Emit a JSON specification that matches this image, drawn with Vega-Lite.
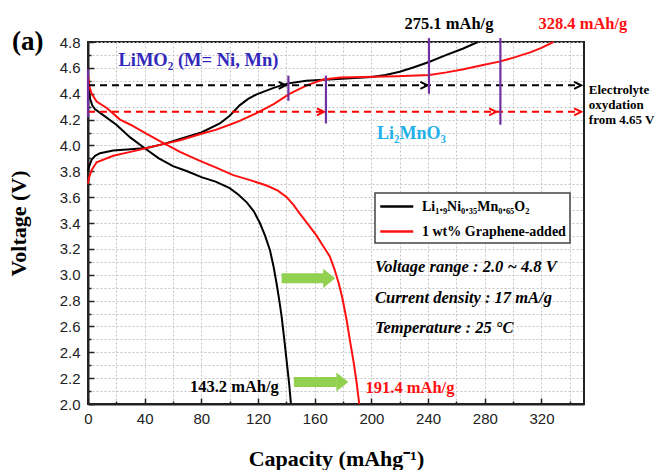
{
  "$schema": "https://vega.github.io/schema/vega-lite/v6.json",
  "width": 496,
  "height": 362,
  "autosize": {"type": "none"},
  "padding": {"left": 88, "top": 42, "right": 73, "bottom": 66},
  "background": "white",
  "config": {
    "view": {"stroke": "#222", "strokeWidth": 2},
    "font": "Liberation Serif",
    "axis": {
      "domainColor": "#222",
      "domainWidth": 2,
      "tickColor": "#222",
      "tickWidth": 1.5,
      "labelFont": "Liberation Sans",
      "labelFontSize": 15,
      "labelColor": "#222",
      "labelFlush": false,
      "labelOverlap": false,
      "titleFont": "Liberation Serif",
      "titleFontSize": 22,
      "titleFontWeight": "bold",
      "titleColor": "black",
      "gridColor": "#c4c4c4",
      "gridDash": [2, 2],
      "gridWidth": 1
    },
    "legend": {
      "orient": "none",
      "legendX": 287,
      "legendY": 151,
      "strokeColor": "#444",
      "strokeWidth": 1.5,
      "fillColor": "white",
      "padding": 4,
      "symbolType": "M -1 0 L 3 0",
      "symbolSize": 272,
      "symbolStrokeWidth": 2.5,
      "symbolFillColor": "transparent",
      "labelOffset": 24,
      "labelFont": "Liberation Serif",
      "labelFontSize": 14,
      "labelFontWeight": "bold",
      "labelColor": "black",
      "labelLimit": 300,
      "rowPadding": 8
    }
  },
  "datasets": {
    "curves": [
      {"series": "Li₁.₉Ni₀.₃₅Mn₀.₆₅O₂", "branch": "charge", "capacity": 0, "voltage": 3.80},
      {"series": "Li₁.₉Ni₀.₃₅Mn₀.₆₅O₂", "branch": "charge", "capacity": 0.9, "voltage": 3.84},
      {"series": "Li₁.₉Ni₀.₃₅Mn₀.₆₅O₂", "branch": "charge", "capacity": 2.6, "voltage": 3.89},
      {"series": "Li₁.₉Ni₀.₃₅Mn₀.₆₅O₂", "branch": "charge", "capacity": 5, "voltage": 3.92},
      {"series": "Li₁.₉Ni₀.₃₅Mn₀.₆₅O₂", "branch": "charge", "capacity": 8.5, "voltage": 3.94},
      {"series": "Li₁.₉Ni₀.₃₅Mn₀.₆₅O₂", "branch": "charge", "capacity": 17.8, "voltage": 3.96},
      {"series": "Li₁.₉Ni₀.₃₅Mn₀.₆₅O₂", "branch": "charge", "capacity": 30, "voltage": 3.97},
      {"series": "Li₁.₉Ni₀.₃₅Mn₀.₆₅O₂", "branch": "charge", "capacity": 41.4, "voltage": 3.98},
      {"series": "Li₁.₉Ni₀.₃₅Mn₀.₆₅O₂", "branch": "charge", "capacity": 53, "voltage": 4.01},
      {"series": "Li₁.₉Ni₀.₃₅Mn₀.₆₅O₂", "branch": "charge", "capacity": 64.9, "voltage": 4.05},
      {"series": "Li₁.₉Ni₀.₃₅Mn₀.₆₅O₂", "branch": "charge", "capacity": 80, "voltage": 4.10},
      {"series": "Li₁.₉Ni₀.₃₅Mn₀.₆₅O₂", "branch": "charge", "capacity": 93, "voltage": 4.17},
      {"series": "Li₁.₉Ni₀.₃₅Mn₀.₆₅O₂", "branch": "charge", "capacity": 100, "voltage": 4.23},
      {"series": "Li₁.₉Ni₀.₃₅Mn₀.₆₅O₂", "branch": "charge", "capacity": 107, "voltage": 4.31},
      {"series": "Li₁.₉Ni₀.₃₅Mn₀.₆₅O₂", "branch": "charge", "capacity": 113, "voltage": 4.36},
      {"series": "Li₁.₉Ni₀.₃₅Mn₀.₆₅O₂", "branch": "charge", "capacity": 119, "voltage": 4.395},
      {"series": "Li₁.₉Ni₀.₃₅Mn₀.₆₅O₂", "branch": "charge", "capacity": 125, "voltage": 4.42},
      {"series": "Li₁.₉Ni₀.₃₅Mn₀.₆₅O₂", "branch": "charge", "capacity": 131, "voltage": 4.445},
      {"series": "Li₁.₉Ni₀.₃₅Mn₀.₆₅O₂", "branch": "charge", "capacity": 138, "voltage": 4.47},
      {"series": "Li₁.₉Ni₀.₃₅Mn₀.₆₅O₂", "branch": "charge", "capacity": 141.5, "voltage": 4.48},
      {"series": "Li₁.₉Ni₀.₃₅Mn₀.₆₅O₂", "branch": "charge", "capacity": 154, "voltage": 4.50},
      {"series": "Li₁.₉Ni₀.₃₅Mn₀.₆₅O₂", "branch": "charge", "capacity": 170, "voltage": 4.51},
      {"series": "Li₁.₉Ni₀.₃₅Mn₀.₆₅O₂", "branch": "charge", "capacity": 185, "voltage": 4.52},
      {"series": "Li₁.₉Ni₀.₃₅Mn₀.₆₅O₂", "branch": "charge", "capacity": 200, "voltage": 4.53},
      {"series": "Li₁.₉Ni₀.₃₅Mn₀.₆₅O₂", "branch": "charge", "capacity": 210, "voltage": 4.545},
      {"series": "Li₁.₉Ni₀.₃₅Mn₀.₆₅O₂", "branch": "charge", "capacity": 220, "voltage": 4.57},
      {"series": "Li₁.₉Ni₀.₃₅Mn₀.₆₅O₂", "branch": "charge", "capacity": 230, "voltage": 4.605},
      {"series": "Li₁.₉Ni₀.₃₅Mn₀.₆₅O₂", "branch": "charge", "capacity": 240.6, "voltage": 4.645},
      {"series": "Li₁.₉Ni₀.₃₅Mn₀.₆₅O₂", "branch": "charge", "capacity": 253, "voltage": 4.70},
      {"series": "Li₁.₉Ni₀.₃₅Mn₀.₆₅O₂", "branch": "charge", "capacity": 264.8, "voltage": 4.75},
      {"series": "Li₁.₉Ni₀.₃₅Mn₀.₆₅O₂", "branch": "charge", "capacity": 275.1, "voltage": 4.80},

      {"series": "Li₁.₉Ni₀.₃₅Mn₀.₆₅O₂", "branch": "discharge", "capacity": 0, "voltage": 4.50},
      {"series": "Li₁.₉Ni₀.₃₅Mn₀.₆₅O₂", "branch": "discharge", "capacity": 1.5, "voltage": 4.36},
      {"series": "Li₁.₉Ni₀.₃₅Mn₀.₆₅O₂", "branch": "discharge", "capacity": 3, "voltage": 4.31},
      {"series": "Li₁.₉Ni₀.₃₅Mn₀.₆₅O₂", "branch": "discharge", "capacity": 5, "voltage": 4.28},
      {"series": "Li₁.₉Ni₀.₃₅Mn₀.₆₅O₂", "branch": "discharge", "capacity": 10, "voltage": 4.24},
      {"series": "Li₁.₉Ni₀.₃₅Mn₀.₆₅O₂", "branch": "discharge", "capacity": 20, "voltage": 4.16},
      {"series": "Li₁.₉Ni₀.₃₅Mn₀.₆₅O₂", "branch": "discharge", "capacity": 30, "voltage": 4.06},
      {"series": "Li₁.₉Ni₀.₃₅Mn₀.₆₅O₂", "branch": "discharge", "capacity": 41, "voltage": 3.97},
      {"series": "Li₁.₉Ni₀.₃₅Mn₀.₆₅O₂", "branch": "discharge", "capacity": 50, "voltage": 3.90},
      {"series": "Li₁.₉Ni₀.₃₅Mn₀.₆₅O₂", "branch": "discharge", "capacity": 60, "voltage": 3.84},
      {"series": "Li₁.₉Ni₀.₃₅Mn₀.₆₅O₂", "branch": "discharge", "capacity": 70, "voltage": 3.80},
      {"series": "Li₁.₉Ni₀.₃₅Mn₀.₆₅O₂", "branch": "discharge", "capacity": 80, "voltage": 3.755},
      {"series": "Li₁.₉Ni₀.₃₅Mn₀.₆₅O₂", "branch": "discharge", "capacity": 90, "voltage": 3.72},
      {"series": "Li₁.₉Ni₀.₃₅Mn₀.₆₅O₂", "branch": "discharge", "capacity": 100, "voltage": 3.67},
      {"series": "Li₁.₉Ni₀.₃₅Mn₀.₆₅O₂", "branch": "discharge", "capacity": 106, "voltage": 3.62},
      {"series": "Li₁.₉Ni₀.₃₅Mn₀.₆₅O₂", "branch": "discharge", "capacity": 112, "voltage": 3.56},
      {"series": "Li₁.₉Ni₀.₃₅Mn₀.₆₅O₂", "branch": "discharge", "capacity": 117, "voltage": 3.49},
      {"series": "Li₁.₉Ni₀.₃₅Mn₀.₆₅O₂", "branch": "discharge", "capacity": 121.3, "voltage": 3.40},
      {"series": "Li₁.₉Ni₀.₃₅Mn₀.₆₅O₂", "branch": "discharge", "capacity": 125, "voltage": 3.30},
      {"series": "Li₁.₉Ni₀.₃₅Mn₀.₆₅O₂", "branch": "discharge", "capacity": 128.4, "voltage": 3.19},
      {"series": "Li₁.₉Ni₀.₃₅Mn₀.₆₅O₂", "branch": "discharge", "capacity": 131, "voltage": 3.06},
      {"series": "Li₁.₉Ni₀.₃₅Mn₀.₆₅O₂", "branch": "discharge", "capacity": 133.1, "voltage": 2.93},
      {"series": "Li₁.₉Ni₀.₃₅Mn₀.₆₅O₂", "branch": "discharge", "capacity": 135, "voltage": 2.80},
      {"series": "Li₁.₉Ni₀.₃₅Mn₀.₆₅O₂", "branch": "discharge", "capacity": 136.6, "voltage": 2.68},
      {"series": "Li₁.₉Ni₀.₃₅Mn₀.₆₅O₂", "branch": "discharge", "capacity": 138.5, "voltage": 2.50},
      {"series": "Li₁.₉Ni₀.₃₅Mn₀.₆₅O₂", "branch": "discharge", "capacity": 140.5, "voltage": 2.30},
      {"series": "Li₁.₉Ni₀.₃₅Mn₀.₆₅O₂", "branch": "discharge", "capacity": 142, "voltage": 2.15},
      {"series": "Li₁.₉Ni₀.₃₅Mn₀.₆₅O₂", "branch": "discharge", "capacity": 143.2, "voltage": 2.00},

      {"series": "1 wt% Graphene-added", "branch": "charge", "capacity": 0, "voltage": 3.705},
      {"series": "1 wt% Graphene-added", "branch": "charge", "capacity": 0.9, "voltage": 3.757},
      {"series": "1 wt% Graphene-added", "branch": "charge", "capacity": 2.6, "voltage": 3.81},
      {"series": "1 wt% Graphene-added", "branch": "charge", "capacity": 6.1, "voltage": 3.87},
      {"series": "1 wt% Graphene-added", "branch": "charge", "capacity": 17.8, "voltage": 3.92},
      {"series": "1 wt% Graphene-added", "branch": "charge", "capacity": 30, "voltage": 3.95},
      {"series": "1 wt% Graphene-added", "branch": "charge", "capacity": 41.4, "voltage": 3.98},
      {"series": "1 wt% Graphene-added", "branch": "charge", "capacity": 53, "voltage": 4.01},
      {"series": "1 wt% Graphene-added", "branch": "charge", "capacity": 64.9, "voltage": 4.04},
      {"series": "1 wt% Graphene-added", "branch": "charge", "capacity": 80, "voltage": 4.09},
      {"series": "1 wt% Graphene-added", "branch": "charge", "capacity": 90, "voltage": 4.12},
      {"series": "1 wt% Graphene-added", "branch": "charge", "capacity": 100, "voltage": 4.16},
      {"series": "1 wt% Graphene-added", "branch": "charge", "capacity": 107, "voltage": 4.19},
      {"series": "1 wt% Graphene-added", "branch": "charge", "capacity": 119, "voltage": 4.25},
      {"series": "1 wt% Graphene-added", "branch": "charge", "capacity": 131, "voltage": 4.32},
      {"series": "1 wt% Graphene-added", "branch": "charge", "capacity": 142.5, "voltage": 4.40},
      {"series": "1 wt% Graphene-added", "branch": "charge", "capacity": 154.4, "voltage": 4.465},
      {"series": "1 wt% Graphene-added", "branch": "charge", "capacity": 166, "voltage": 4.51},
      {"series": "1 wt% Graphene-added", "branch": "charge", "capacity": 178, "voltage": 4.525},
      {"series": "1 wt% Graphene-added", "branch": "charge", "capacity": 194, "voltage": 4.53},
      {"series": "1 wt% Graphene-added", "branch": "charge", "capacity": 218, "voltage": 4.535},
      {"series": "1 wt% Graphene-added", "branch": "charge", "capacity": 241, "voltage": 4.545},
      {"series": "1 wt% Graphene-added", "branch": "charge", "capacity": 253, "voltage": 4.565},
      {"series": "1 wt% Graphene-added", "branch": "charge", "capacity": 265, "voltage": 4.59},
      {"series": "1 wt% Graphene-added", "branch": "charge", "capacity": 278, "voltage": 4.62},
      {"series": "1 wt% Graphene-added", "branch": "charge", "capacity": 291, "voltage": 4.65},
      {"series": "1 wt% Graphene-added", "branch": "charge", "capacity": 302, "voltage": 4.685},
      {"series": "1 wt% Graphene-added", "branch": "charge", "capacity": 312, "voltage": 4.72},
      {"series": "1 wt% Graphene-added", "branch": "charge", "capacity": 320, "voltage": 4.755},
      {"series": "1 wt% Graphene-added", "branch": "charge", "capacity": 328.4, "voltage": 4.80},

      {"series": "1 wt% Graphene-added", "branch": "discharge", "capacity": 0, "voltage": 4.55},
      {"series": "1 wt% Graphene-added", "branch": "discharge", "capacity": 0.9, "voltage": 4.46},
      {"series": "1 wt% Graphene-added", "branch": "discharge", "capacity": 2.6, "voltage": 4.40},
      {"series": "1 wt% Graphene-added", "branch": "discharge", "capacity": 6.1, "voltage": 4.34},
      {"series": "1 wt% Graphene-added", "branch": "discharge", "capacity": 13.2, "voltage": 4.29},
      {"series": "1 wt% Graphene-added", "branch": "discharge", "capacity": 22.6, "voltage": 4.20},
      {"series": "1 wt% Graphene-added", "branch": "discharge", "capacity": 30, "voltage": 4.16},
      {"series": "1 wt% Graphene-added", "branch": "discharge", "capacity": 41.4, "voltage": 4.09},
      {"series": "1 wt% Graphene-added", "branch": "discharge", "capacity": 53, "voltage": 4.02},
      {"series": "1 wt% Graphene-added", "branch": "discharge", "capacity": 64.9, "voltage": 3.95},
      {"series": "1 wt% Graphene-added", "branch": "discharge", "capacity": 77, "voltage": 3.89},
      {"series": "1 wt% Graphene-added", "branch": "discharge", "capacity": 90, "voltage": 3.83},
      {"series": "1 wt% Graphene-added", "branch": "discharge", "capacity": 102.5, "voltage": 3.77},
      {"series": "1 wt% Graphene-added", "branch": "discharge", "capacity": 115, "voltage": 3.73},
      {"series": "1 wt% Graphene-added", "branch": "discharge", "capacity": 126, "voltage": 3.69},
      {"series": "1 wt% Graphene-added", "branch": "discharge", "capacity": 134, "voltage": 3.65},
      {"series": "1 wt% Graphene-added", "branch": "discharge", "capacity": 140.2, "voltage": 3.60},
      {"series": "1 wt% Graphene-added", "branch": "discharge", "capacity": 145, "voltage": 3.54},
      {"series": "1 wt% Graphene-added", "branch": "discharge", "capacity": 149.6, "voltage": 3.47},
      {"series": "1 wt% Graphene-added", "branch": "discharge", "capacity": 156, "voltage": 3.38},
      {"series": "1 wt% Graphene-added", "branch": "discharge", "capacity": 161.4, "voltage": 3.30},
      {"series": "1 wt% Graphene-added", "branch": "discharge", "capacity": 166, "voltage": 3.22},
      {"series": "1 wt% Graphene-added", "branch": "discharge", "capacity": 170.7, "voltage": 3.14},
      {"series": "1 wt% Graphene-added", "branch": "discharge", "capacity": 174, "voltage": 3.04},
      {"series": "1 wt% Graphene-added", "branch": "discharge", "capacity": 177, "voltage": 2.93},
      {"series": "1 wt% Graphene-added", "branch": "discharge", "capacity": 179.5, "voltage": 2.82},
      {"series": "1 wt% Graphene-added", "branch": "discharge", "capacity": 182.5, "voltage": 2.65},
      {"series": "1 wt% Graphene-added", "branch": "discharge", "capacity": 185, "voltage": 2.48},
      {"series": "1 wt% Graphene-added", "branch": "discharge", "capacity": 187.5, "voltage": 2.32},
      {"series": "1 wt% Graphene-added", "branch": "discharge", "capacity": 189.5, "voltage": 2.17},
      {"series": "1 wt% Graphene-added", "branch": "discharge", "capacity": 191.4, "voltage": 2.00}
    ],
    "dashes": [
      {"line": "black", "capacity": 0, "capacity2": 348, "voltage": 4.465},
      {"line": "red", "capacity": 0, "capacity2": 348, "voltage": 4.26}
    ],
    "heads": [
      {"line": "black", "capacity": 139.5, "voltage": 4.465},
      {"line": "black", "capacity": 239.5, "voltage": 4.465},
      {"line": "black", "capacity": 348, "voltage": 4.465},
      {"line": "red", "capacity": 166.5, "voltage": 4.26},
      {"line": "red", "capacity": 288, "voltage": 4.26},
      {"line": "red", "capacity": 348, "voltage": 4.26}
    ],
    "marks": [
      {"capacity": 0, "voltage": 4.22, "voltage2": 4.59},
      {"capacity": 141.4, "voltage": 4.345, "voltage2": 4.54},
      {"capacity": 167.9, "voltage": 4.17, "voltage2": 4.54},
      {"capacity": 240.6, "voltage": 4.40, "voltage2": 4.83},
      {"capacity": 291, "voltage": 4.16, "voltage2": 4.83}
    ],
    "arrows": [
      {"capacity": 136.6, "capacity2": 166.5, "head": 170.2, "voltage": 2.972},
      {"capacity": 145.3, "capacity2": 175.5, "head": 179.5, "voltage": 2.17}
    ],
    "notes": [
      {"kind": "panel", "label": "(a)", "capacity": -42.5, "voltage": 4.735},
      {"kind": "phase1", "label": "LiMO₂ (M= Ni, Mn)", "capacity": 77.9, "voltage": 4.615},
      {"kind": "phase2", "label": "Li₂MnO₃", "capacity": 228.2, "voltage": 4.053},
      {"kind": "capblack", "label": "275.1 mAh/g", "capacity": 254.7, "voltage": 4.904},
      {"kind": "capblack", "label": "143.2 mAh/g", "capacity": 103.3, "voltage": 2.095},
      {"kind": "capred", "label": "328.4 mAh/g", "capacity": 349.2, "voltage": 4.904},
      {"kind": "capred", "label": "191.4 mAh/g", "capacity": 227.2, "voltage": 2.088},
      {"kind": "electrolyte", "label": "Electrolyte", "capacity": 353.4, "voltage": 4.401},
      {"kind": "electrolyte", "label": "oxydation", "capacity": 353.4, "voltage": 4.285},
      {"kind": "electrolyte", "label": "from 4.65 V", "capacity": 353.4, "voltage": 4.164},
      {"kind": "condition", "label": "Voltage range : 2.0 ~ 4.8 V", "capacity": 202.5, "voltage": 3.022},
      {"kind": "condition", "label": "Current density : 17 mA/g", "capacity": 202.5, "voltage": 2.783},
      {"kind": "condition", "label": "Temperature : 25 °C", "capacity": 202.5, "voltage": 2.547}
    ]
  },
  "encoding": {
    "x": {
      "field": "capacity",
      "type": "quantitative",
      "scale": {"domain": [0, 350], "nice": false, "zero": false},
      "axis": {
        "title": "Capacity (mAhg⁻¹)",
        "titlePadding": 19,
        "values": [0, 20, 40, 60, 80, 100, 120, 140, 160, 180, 200, 220, 240, 260, 280, 300, 320, 340],
        "labelExpr": "datum.value % 40 === 0 ? datum.label : ''",
        "tickSize": {"condition": {"test": "datum.value % 40 === 0", "value": -6}, "value": -3},
        "labelPadding": 13
      }
    },
    "y": {
      "field": "voltage",
      "type": "quantitative",
      "scale": {"domain": [2.0, 4.8], "nice": false, "zero": false},
      "axis": {
        "title": "Voltage (V)",
        "titlePadding": 29,
        "values": [2.0, 2.1, 2.2, 2.3, 2.4, 2.5, 2.6, 2.7, 2.8, 2.9, 3.0, 3.1, 3.2, 3.3, 3.4, 3.5, 3.6, 3.7, 3.8, 3.9, 4.0, 4.1, 4.2, 4.3, 4.4, 4.5, 4.6, 4.7, 4.8],
        "labelExpr": "round(datum.value * 10) % 2 === 0 ? format(datum.value, '.1f') : ''",
        "tickSize": {"condition": {"test": "round(datum.value * 10) % 2 === 0", "value": -6}, "value": -3},
        "labelPadding": 14
      }
    }
  },
  "layer": [
    {
      "data": {"name": "curves"},
      "mark": {"type": "line", "strokeWidth": 2, "clip": false},
      "encoding": {
        "color": {
          "field": "series",
          "type": "nominal",
          "scale": {"domain": ["Li₁.₉Ni₀.₃₅Mn₀.₆₅O₂", "1 wt% Graphene-added"], "range": ["#000000", "#ff1010"]},
          "legend": {"title": null}
        },
        "detail": {"field": "branch"}
      }
    },
    {
      "data": {"name": "dashes"},
      "mark": {"type": "rule", "strokeWidth": 2, "strokeDash": [7, 5]},
      "encoding": {
        "x2": {"field": "capacity2"},
        "color": {"field": "line", "type": "nominal", "scale": null, "legend": null}
      }
    },
    {
      "data": {"name": "heads"},
      "mark": {"type": "point", "shape": "M -2 -1 L 0 0 L -2 1", "filled": false, "strokeWidth": 2, "size": 49, "opacity": 1},
      "encoding": {
        "color": {"field": "line", "type": "nominal", "scale": null, "legend": null}
      }
    },
    {
      "data": {"name": "marks"},
      "mark": {"type": "rule", "strokeWidth": 2.2, "color": "#7030a0"},
      "encoding": {
        "y2": {"field": "voltage2"}
      }
    },
    {
      "data": {"name": "arrows"},
      "mark": {"type": "rule", "strokeWidth": 10, "color": "#92d050", "strokeCap": "butt"},
      "encoding": {
        "x2": {"field": "capacity2"}
      }
    },
    {
      "data": {"name": "arrows"},
      "mark": {"type": "point", "shape": "M -1 -1.6 L 1 0 L -1 1.6 Z", "filled": true, "size": 144, "color": "#92d050", "opacity": 1},
      "encoding": {
        "x": {"field": "head", "type": "quantitative"}
      }
    },
    {
      "data": {"name": "notes"},
      "transform": [{"filter": "datum.kind === 'panel'"}],
      "mark": {"type": "text", "font": "Liberation Serif", "fontWeight": "bold", "fontSize": 27, "align": "center", "baseline": "alphabetic", "color": "black"},
      "encoding": {"text": {"field": "label"}}
    },
    {
      "data": {"name": "notes"},
      "transform": [{"filter": "datum.kind === 'phase1'"}],
      "mark": {"type": "text", "font": "Liberation Serif", "fontWeight": "bold", "fontSize": 18.5, "align": "center", "baseline": "alphabetic", "color": "#3328bc"},
      "encoding": {"text": {"field": "label"}}
    },
    {
      "data": {"name": "notes"},
      "transform": [{"filter": "datum.kind === 'phase2'"}],
      "mark": {"type": "text", "font": "Liberation Serif", "fontWeight": "bold", "fontSize": 18, "align": "center", "baseline": "alphabetic", "color": "#22b0ea"},
      "encoding": {"text": {"field": "label"}}
    },
    {
      "data": {"name": "notes"},
      "transform": [{"filter": "datum.kind === 'capblack'"}],
      "mark": {"type": "text", "font": "Liberation Serif", "fontWeight": "bold", "fontSize": 16.5, "align": "center", "baseline": "alphabetic", "color": "black"},
      "encoding": {"text": {"field": "label"}}
    },
    {
      "data": {"name": "notes"},
      "transform": [{"filter": "datum.kind === 'capred'"}],
      "mark": {"type": "text", "font": "Liberation Serif", "fontWeight": "bold", "fontSize": 16.5, "align": "center", "baseline": "alphabetic", "color": "#ff1010"},
      "encoding": {"text": {"field": "label"}}
    },
    {
      "data": {"name": "notes"},
      "transform": [{"filter": "datum.kind === 'electrolyte'"}],
      "mark": {"type": "text", "font": "Liberation Serif", "fontWeight": "bold", "fontSize": 13, "align": "left", "baseline": "alphabetic", "color": "black"},
      "encoding": {"text": {"field": "label"}}
    },
    {
      "data": {"name": "notes"},
      "transform": [{"filter": "datum.kind === 'condition'"}],
      "mark": {"type": "text", "font": "Liberation Serif", "fontWeight": "bold", "fontStyle": "italic", "fontSize": 16.5, "align": "left", "baseline": "alphabetic", "color": "black"},
      "encoding": {"text": {"field": "label"}}
    }
  ]
}
